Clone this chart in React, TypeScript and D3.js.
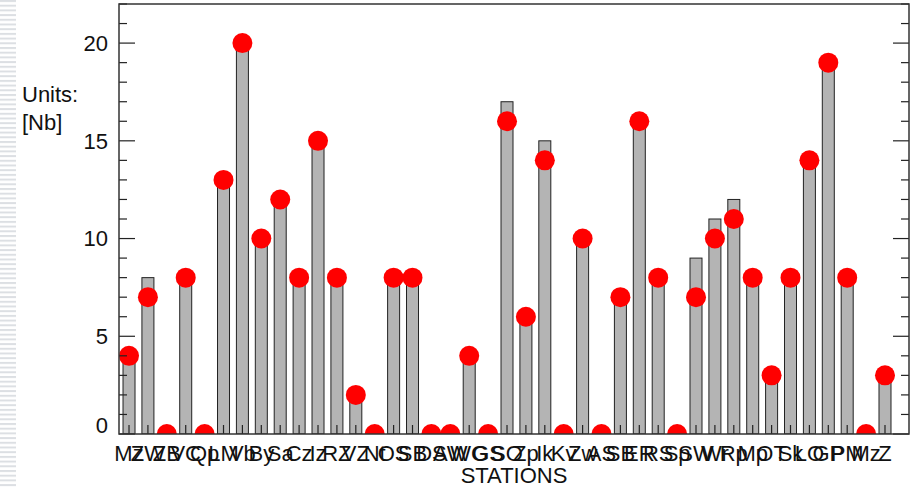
import * as d3 from 'd3';

// station codes (labels overlap in the original, so most are best guesses)
const stations = [
  'Mz', 'ZW', 'ZB', 'VC', 'Qp', 'LM', 'Vb', 'By', 'Sa', 'Cz', 'Iz',
  'RZ', 'VZ', 'Nt', 'OS', 'SB', 'DS', 'AW', 'WG', 'GS', 'SO', 'Zp',
  'Ik', 'Kv', 'Zw', 'AS', 'SB', 'ER', 'RS', 'Sp', 'SW', 'Wr', 'Rp',
  'Mp', 'OT', 'Sk', 'LO', 'GP', 'PM', 'Mz', 'Z',
];
const barValues = [
  4, 8, 0, 8, 0, 13, 20, 10, 12, 8, 15, 8, 2, 0, 8, 8, 0, 0, 4, 0, 17,
  6, 15, 0, 10, 0, 7, 16, 8, 0, 9, 11, 12, 8, 3, 8, 14, 19, 8, 0, 3,
];
const dotValues = [
  4, 7, 0, 8, 0, 13, 20, 10, 12, 8, 15, 8, 2, 0, 8, 8, 0, 0, 4, 0, 16,
  6, 14, 0, 10, 0, 7, 16, 8, 0, 7, 10, 11, 8, 3, 8, 14, 19, 8, 0, 3,
];
const yMajor = [0, 5, 10, 15, 20];
const yMinor = d3.range(0, 23);

const W = 916;
const H = 488;
const plot = { left: 119, right: 909, top: 4, bottom: 434 };
const font = '"Liberation Sans", Arial, sans-serif';

export default function App() {
  const x = d3
    .scaleLinear()
    .domain([-0.53, stations.length + 0.27])
    .range([plot.left, plot.right]);
  const y = d3.scaleLinear().domain([0, 22]).range([plot.bottom, plot.top]);
  const barW = 12;

  return (
    <svg
      width={W}
      height={H}
      style={{ position: 'absolute', left: 0, top: 0, background: '#fff' }}
    >
      <defs>
        <clipPath id="plotClip">
          <rect
            x={plot.left}
            y={plot.top}
            width={plot.right - plot.left}
            height={plot.bottom - plot.top}
          />
        </clipPath>
        <pattern id="stripes" width="16" height="4.7" patternUnits="userSpaceOnUse">
          <rect x="0" y="0" width="16" height="2" fill="#dcdfe3" />
        </pattern>
      </defs>
      <rect x={0} y={0} width={16} height={H} fill="url(#stripes)" />

      {/* bars */}
      <g clipPath="url(#plotClip)">
        {barValues.map((v, i) => (
          <rect
            key={'b' + i}
            x={x(i) - barW / 2}
            y={y(v)}
            width={barW}
            height={y(0) - y(v)}
            fill="#b4b4b4"
            stroke="#222"
            strokeWidth={1}
          />
        ))}
      </g>

      {/* bottom ticks */}
      {stations.map((_, i) => (
        <line
          key={'xt' + i}
          x1={x(i)}
          x2={x(i)}
          y1={plot.bottom}
          y2={plot.bottom - 9}
          stroke="#222"
          strokeWidth={1.2}
        />
      ))}

      {/* dots */}
      <g clipPath="url(#plotClip)">
        {dotValues.map((v, i) => (
          <circle key={'d' + i} cx={x(i)} cy={y(v)} r={10} fill="#ff0000" />
        ))}
      </g>

      {/* y ticks left and right */}
      {yMinor.map((v) => {
        const len = yMajor.includes(v) ? 16 : 8;
        return (
          <g key={'yt' + v}>
            <line x1={plot.left} x2={plot.left + len} y1={y(v)} y2={y(v)} stroke="#222" strokeWidth={1.2} />
            <line x1={plot.right} x2={plot.right - len} y1={y(v)} y2={y(v)} stroke="#222" strokeWidth={1.2} />
          </g>
        );
      })}

      {/* frame */}
      <rect
        x={plot.left}
        y={plot.top}
        width={plot.right - plot.left}
        height={plot.bottom - plot.top}
        fill="none"
        stroke="#333"
        strokeWidth={1.5}
      />

      {/* y labels */}
      {yMajor.map((v) => (
        <text
          key={'yl' + v}
          x={108}
          y={v === 0 ? y(v) - 9 : y(v)}
          dy="0.36em"
          textAnchor="end"
          fontFamily={font}
          fontSize={22}
          fill="#111"
        >
          {v}
        </text>
      ))}

      <text x={22} y={102} fontFamily={font} fontSize={22} fill="#111">
        Units:
      </text>
      <text x={22} y={130} fontFamily={font} fontSize={22} fill="#111">
        [Nb]
      </text>

      {/* station labels */}
      {stations.map((s, i) => (
        <text
          key={'xl' + i}
          x={x(i)}
          y={461}
          textAnchor="middle"
          fontFamily={font}
          fontSize={22}
          fill="#111"
        >
          {s}
        </text>
      ))}
      <text
        x={(plot.left + plot.right) / 2}
        y={483}
        textAnchor="middle"
        fontFamily={font}
        fontSize={22}
        fill="#111"
      >
        STATIONS
      </text>
    </svg>
  );
}
